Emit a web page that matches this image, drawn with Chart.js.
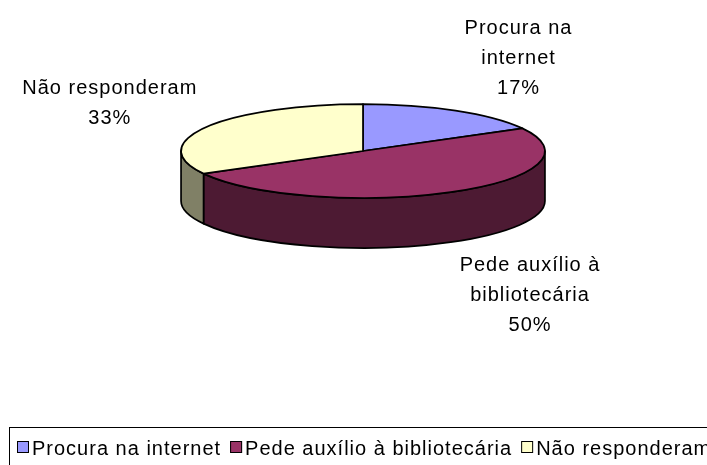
<!DOCTYPE html>
<html lang="pt">
<head>
    <meta charset="UTF-8">
    <title>Pesquisa - Fontes de informação</title>
    <script src="https://cdn.jsdelivr.net/npm/chart.js"></script>
    <style>
        html, body { margin: 0; padding: 0; background: #fff; }
        canvas { display: block; }
    </style>
</head>
<body>
    <canvas id="pieChart" width="707" height="465"></canvas>

    <script>
        // Data
        const categories = ['Procura na internet', 'Pede auxílio à bibliotecária', 'Não responderam'];
        const labelLines = [['Procura na', 'internet'], ['Pede auxílio à', 'bibliotecária'], ['Não responderam']];
        const percents = [17, 50, 33];

        // Excel-like colours (top faces, then darker side walls)
        const colors = ['#9999FF', '#993366', '#FFFFCC'];
        const sideColors = ['#4D4D80', '#4D1A33', '#808066'];

        const FONT = '20px "Liberation Sans", Arial, sans-serif';
        const X_SCALE = 1.205;   // ellipse width vs. chart radius
        const Y_SCALE = 0.311;   // tilt of the pie
        const DEPTH = 50;        // height of the side wall
        const LINE_H = 30;

        // draws the pie in 3D from the arcs Chart.js laid out
        const pie3d = {
            id: 'pie3d',
            beforeDatasetsDraw(chart) {
                const ctx = chart.ctx;
                const arcs = chart.getDatasetMeta(0).data;
                const cx = arcs[0].x, cy = arcs[0].y, r = arcs[0].outerRadius;
                const rx = r * X_SCALE, ry = r * Y_SCALE;

                ctx.save();
                ctx.lineWidth = 1.7;
                ctx.strokeStyle = '#000';
                ctx.lineJoin = 'round';

                // side walls: only the front half (angles 0..PI) is visible
                arcs.forEach((a, i) => {
                    const lo = Math.max(a.startAngle, 0);
                    const hi = Math.min(a.endAngle, Math.PI);
                    if (hi <= lo) return;
                    ctx.beginPath();
                    ctx.ellipse(cx, cy, rx, ry, 0, lo, hi);
                    ctx.lineTo(cx + rx * Math.cos(hi), cy + DEPTH + ry * Math.sin(hi));
                    ctx.ellipse(cx, cy + DEPTH, rx, ry, 0, hi, lo, true);
                    ctx.closePath();
                    ctx.fillStyle = sideColors[i];
                    ctx.fill();
                    ctx.stroke();
                });

                // top faces
                arcs.forEach((a, i) => {
                    ctx.beginPath();
                    ctx.moveTo(cx, cy);
                    ctx.ellipse(cx, cy, rx, ry, 0, a.startAngle, a.endAngle);
                    ctx.closePath();
                    ctx.fillStyle = colors[i];
                    ctx.fill();
                    ctx.stroke();
                });

                // data labels, placed next to the edge point of each slice
                ctx.fillStyle = '#000';
                ctx.font = FONT;
                ctx.letterSpacing = '1px';
                ctx.textAlign = 'center';
                ctx.textBaseline = 'middle';
                arcs.forEach((a, i) => {
                    const m = (a.startAngle + a.endAngle) / 2;
                    const front = Math.sin(m) > 0;
                    const px = cx + Math.cos(m) * rx;
                    const py = cy + Math.sin(m) * ry + (front ? DEPTH : 0);
                    const lines = labelLines[i].concat(percents[i] + '%');
                    const w = Math.max(...lines.map(t => ctx.measureText(t).width));
                    const h = lines.length * LINE_H;
                    const lx = px + Math.sign(Math.cos(m)) * (w / 2 + 9);
                    const ly = py + Math.sin(m) * (h / 2 + 16);
                    lines.forEach((t, j) => {
                        ctx.fillText(t, lx, ly - (lines.length - 1) * LINE_H / 2 + j * LINE_H);
                    });
                });
                ctx.restore();
                return false; // skip the flat pie
            },
            afterDraw(chart) {
                // legend with a frame, like the Excel original
                const ctx = chart.ctx;
                ctx.save();
                ctx.strokeStyle = '#000';
                ctx.lineWidth = 1;
                ctx.strokeRect(9.5, 427.5, 760, 60);
                ctx.font = FONT;
                ctx.letterSpacing = '1px';
                ctx.textBaseline = 'alphabetic';
                ctx.textAlign = 'left';
                let x = 17;
                categories.forEach((c, i) => {
                    ctx.fillStyle = colors[i];
                    ctx.fillRect(x, 441, 12, 12);
                    ctx.strokeRect(x + 0.5, 441.5, 11, 11);
                    ctx.fillStyle = '#000';
                    ctx.fillText(c, x + 15, 455);
                    x += 15 + ctx.measureText(c).width + 9;
                });
                ctx.restore();
            }
        };

        new Chart(document.getElementById('pieChart'), {
            type: 'pie',
            data: {
                labels: categories,
                datasets: [{
                    data: percents,
                    backgroundColor: colors,
                    borderWidth: 0
                }]
            },
            options: {
                responsive: false,
                animation: false,
                layout: {
                    padding: { left: 19, right: 0, top: 0, bottom: 163 }
                },
                plugins: {
                    legend: { display: false },
                    tooltip: { enabled: false }
                }
            },
            plugins: [pie3d]
        });
    </script>
</body>
</html>
